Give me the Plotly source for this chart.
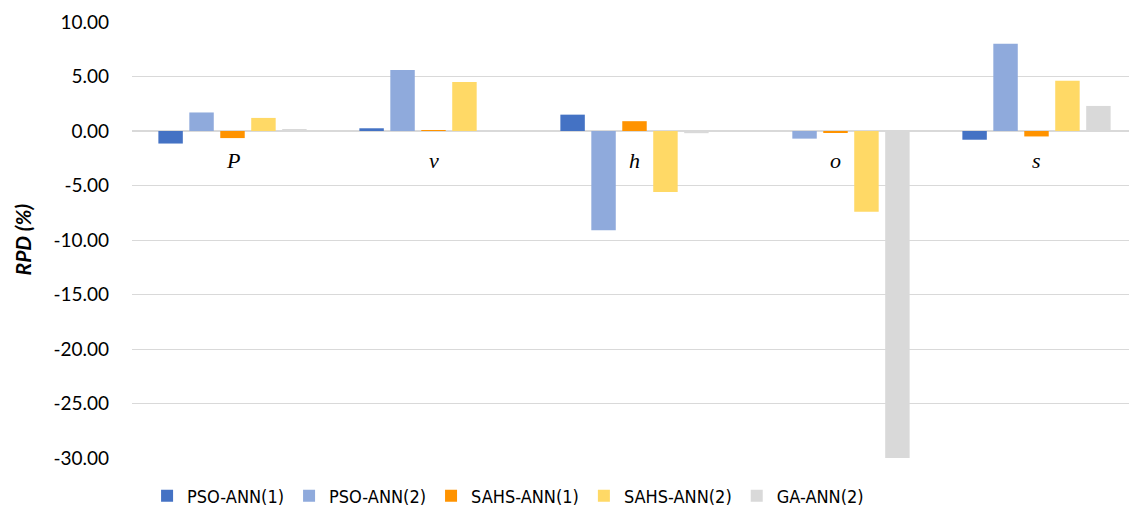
import plotly.graph_objects as go

categories = ["P", "v", "h", "o", "s"]
series_names = ["PSO-ANN(1)", "PSO-ANN(2)", "SAHS-ANN(1)", "SAHS-ANN(2)", "GA-ANN(2)"]
pso_ann1 = [-1.15, 0.25, 1.50, 0.00, -0.80]
pso_ann2 = [1.70, 5.60, -9.10, -0.70, 8.00]
sahs_ann1 = [-0.65, 0.02, 0.90, -0.15, -0.50]
sahs_ann2 = [1.20, 4.50, -5.60, -7.40, 4.60]
ga_ann2 = [0.15, 0.00, -0.20, -30.20, 2.30]
y_ticks = [10, 5, 0, -5, -10, -15, -20, -25, -30]
y_tick_text = ["10.00", "5.00", "0.00", "-5.00", "-10.00", "-15.00", "-20.00", "-25.00", "-30.00"]

colors = ["#4472C4", "#8FAADC", "#FF9300", "#FFD966", "#D9D9D9"]
series = [pso_ann1, pso_ann2, sahs_ann1, sahs_ann2, ga_ann2]

narrow = "Liberation Sans Narrow, DejaVu Sans Condensed, Lato"

fig = go.Figure()
for name, vals, col in zip(series_names, series, colors):
    fig.add_trace(go.Bar(x=categories, y=vals, name=name, marker=dict(color=col, line=dict(width=0))))

for c in categories:
    fig.add_annotation(x=c, y=-2.7, xref="x", yref="y", text=c, showarrow=False,
                       font=dict(family="Liberation Serif", size=22, color="#000000", style="italic"))

fig.add_annotation(x=-0.109, y=0.5, xref="paper", yref="paper", xanchor="center", yanchor="middle",
                   text="<b><i>RPD (%)</i></b>",
                   textangle=-90, showarrow=False, font=dict(family="Lato", size=21, color="#000000"))

fig.update_layout(
    width=1129, height=501,
    margin=dict(l=124, r=0, t=14, b=51, pad=0, autoexpand=False),
    plot_bgcolor="white", paper_bgcolor="white",
    barmode="group", bargap=0.23, bargroupgap=0.21,
    showlegend=True,
    legend=dict(orientation="h", x=0.015, xanchor="left", y=-0.045, yanchor="top",
                font=dict(family=narrow, size=18, color="#000000"), itemwidth=30,
                tracegroupgap=0),
    xaxis=dict(showticklabels=False, showgrid=False, zeroline=False, showline=False, ticks=""),
    yaxis=dict(range=[-30, 10], tickvals=y_ticks, ticktext=y_tick_text, showgrid=True,
               gridcolor="#D9D9D9", gridwidth=1, zeroline=True, zerolinecolor="#D9D9D9",
               zerolinewidth=1.5, showline=False, ticks="", ticklabelstandoff=22,
               tickfont=dict(family="Lato", size=19, color="#000000")),
    font=dict(family="Lato"),
)

fig.write_html("out.html")
